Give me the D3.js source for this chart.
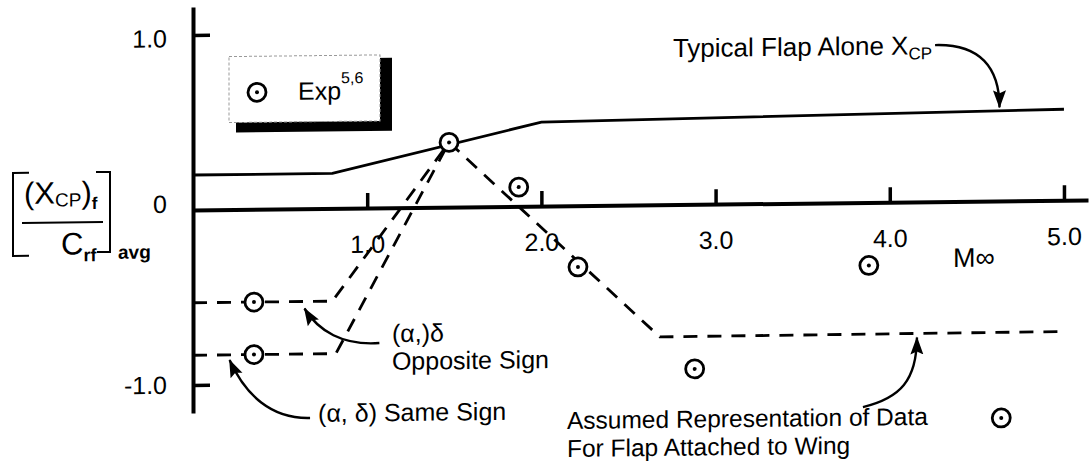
<!DOCTYPE html>
<html>
<head>
<meta charset="utf-8">
<script src="https://cdn.jsdelivr.net/npm/d3@7"></script>
<style>
  html, body { margin: 0; padding: 0; background: #fff; }
  svg { display: block; font-family: "Liberation Sans", Arial, Helvetica, sans-serif; }
</style>
</head>
<body>
<svg id="chart" width="1091" height="469"></svg>
<script>
// Experimental centre-of-pressure points (Mach number, Xcp / Crf)
const expMach = [0.35, 0.35, 1.47, 1.87, 2.21, 2.88, 3.88, 4.64];
const expXcp  = [-0.53, -0.83, 0.37, 0.11, -0.35, -0.94, -0.36, -1.24];

// Typical flap-alone centre of pressure
const flapAloneMach = [0, 0.8, 2.0, 5.0];
const flapAloneXcp  = [0.2, 0.2, 0.48, 0.52];

// Assumed representation for a flap attached to a wing
const oppositeMach = [0, 0.8, 1.47];
const oppositeXcp  = [-0.53, -0.53, 0.37];
const sameMach     = [0, 0.82, 1.47];
const sameXcp      = [-0.83, -0.83, 0.37];
const attachedMach = [1.47, 2.68, 4.98];
const attachedXcp  = [0.37, -0.755, -0.75];

// Axis ticks
const xTicks = [1, 2, 3, 4, 5];
const yTicks = [-1, 0, 1];

const FONT = '"Liberation Sans", Arial, Helvetica, sans-serif';
const svg = d3.select("#chart");

const x = d3.scaleLinear().domain([0, 5.138]).range([193, 1088]);
const y = d3.scaleLinear().domain([-1.16, 1.16]).range([413, 7]);

// the original sheet sits with a slight slope on its horizontal lines
const slope = -0.64;
const g = svg.append("g")
  .attr("transform", `translate(${x(0)},${y(0)}) skewY(${slope}) translate(${-x(0)},${-y(0)})`);

// arrowhead
svg.append("defs").append("marker")
  .attr("id", "arrow")
  .attr("markerUnits", "userSpaceOnUse")
  .attr("markerWidth", 20).attr("markerHeight", 16)
  .attr("viewBox", "0 -8 20 16")
  .attr("refX", 17).attr("refY", 0)
  .attr("orient", "auto")
  .append("path").attr("d", "M0,-6.5L18,0L0,6.5L3,0Z").attr("fill", "#000");

// ---- axes ----
const xAxis = g.append("g")
  .attr("transform", `translate(0,${y(0)})`)
  .call(d3.axisBottom(x).tickValues(xTicks).tickFormat(d => d.toFixed(1))
    .tickSizeInner(-15).tickSizeOuter(0).tickPadding(27));
const yAxis = g.append("g")
  .attr("transform", `translate(${x(0)},0)`)
  .call(d3.axisLeft(y).tickValues(yTicks).tickFormat(d => d === 0 ? "0" : d.toFixed(1))
    .tickSizeInner(-17).tickSizeOuter(0).tickPadding(26));
yAxis.selectAll(".tick").filter(d => d === 0).select("line").remove();
yAxis.selectAll(".tick text").attr("dy", d => d === 0 ? "0.08em" : d === 1 ? "0.46em" : "0.32em");

[xAxis, yAxis].forEach(a => {
  a.attr("font-family", FONT).attr("font-size", 25);
  a.select(".domain").attr("stroke", "#000").attr("stroke-width", 4);
  a.selectAll(".tick line").attr("stroke", "#000").attr("stroke-width", 3.5);
  a.selectAll(".tick text").attr("fill", "#000");
});

// ---- curves ----
const line = d3.line().x(d => x(d[0])).y(d => y(d[1]));
const pairs = (ms, vs) => ms.map((m, i) => [m, vs[i]]);

g.append("path").datum(pairs(flapAloneMach, flapAloneXcp))
  .attr("d", line).attr("fill", "none").attr("stroke", "#000").attr("stroke-width", 2.8);

[[oppositeMach, oppositeXcp], [sameMach, sameXcp], [attachedMach, attachedXcp]].forEach(([ms, vs]) => {
  g.append("path").datum(pairs(ms, vs))
    .attr("d", line).attr("fill", "none").attr("stroke", "#000")
    .attr("stroke-width", 2.8).attr("stroke-dasharray", "14,10");
});

// ---- experimental markers ----
function dotCircle(sel) {
  sel.append("circle").attr("r", 9).attr("fill", "#fff").attr("stroke", "#000").attr("stroke-width", 2.8);
  sel.append("circle").attr("r", 2).attr("fill", "#000");
}
g.selectAll(".exp").data(pairs(expMach, expXcp)).join("g")
  .attr("class", "exp")
  .attr("transform", d => `translate(${x(d[0])},${y(d[1])})`)
  .each(function () { dotCircle(d3.select(this)); });

// ---- annotation arrows (data units) ----
const arrows = [
  { from: [4.26, 0.895],  c1: [4.52, 0.90],   c2: [4.63, 0.76],  to: [4.63, 0.535] },
  { from: [1.07, -0.772], c1: [0.86, -0.785], c2: [0.72, -0.70], to: [0.64, -0.57] },
  { from: [0.672, -1.196],c1: [0.45, -1.20],  c2: [0.30, -1.06], to: [0.21, -0.86] },
  { from: [3.846, -1.169],c1: [4.06, -1.12],  c2: [4.155, -1.02],to: [4.156, -0.775] }
];
const P = p => `${x(p[0])},${y(p[1])}`;
g.selectAll(".arrow").data(arrows).join("path")
  .attr("class", "arrow")
  .attr("d", a => `M${P(a.from)}C${P(a.c1)} ${P(a.c2)} ${P(a.to)}`)
  .attr("fill", "none").attr("stroke", "#000").attr("stroke-width", 2.4)
  .attr("marker-end", "url(#arrow)");

// ---- annotation text (data units for anchor) ----
function note(at, parts, size = 25) {
  const t = g.append("text").attr("x", x(at[0])).attr("y", y(at[1]))
    .attr("font-family", FONT).attr("font-size", size).attr("fill", "#000");
  parts.forEach(p => {
    const s = t.append("tspan").text(p.text);
    if (p.size) s.attr("font-size", p.size);
    if (p.dy) s.attr("dy", p.dy);
  });
  return t;
}
note([2.755, 0.843], [{ text: "Typical Flap Alone X" }, { text: "CP", size: 17, dy: 5 }], 26);
note([1.142, -0.767], [{ text: "(α,)δ" }]);
note([1.142, -0.926], [{ text: "Opposite Sign" }]);
note([0.718, -1.219], [{ text: "(α, δ) Same Sign" }]);
note([2.147, -1.275], [{ text: "Assumed Representation of Data" }], 24.5);
note([2.147, -1.435], [{ text: "For Flap Attached to Wing" }], 24.5);
note([4.363, -0.374], [{ text: "M", size: 27 }, { text: "∞", size: 27 }]);

// ---- legend ----
const lg = g.append("g");
lg.append("rect").attr("x", 236).attr("y", 60).attr("width", 156).attr("height", 73).attr("fill", "#000");
lg.append("rect").attr("x", 229).attr("y", 57).attr("width", 151).attr("height", 66)
  .attr("fill", "#fff").attr("stroke", "#999").attr("stroke-width", 1).attr("stroke-dasharray", "3,2");
dotCircle(lg.append("g").attr("transform", "translate(257,93)"));
const lt = lg.append("text").attr("x", 298).attr("y", 101)
  .attr("font-family", FONT).attr("font-size", 25).attr("fill", "#000");
lt.append("tspan").text("Exp");
lt.append("tspan").text("5,6").attr("font-size", 16).attr("dy", -16);

// ---- y-axis title ----
const yt = g.append("g").attr("font-family", FONT).attr("fill", "#000");
const num = yt.append("text").attr("x", 24).attr("y", 202).attr("font-size", 31);
num.append("tspan").text("(X");
num.append("tspan").text("CP").attr("font-size", 19).attr("dy", 3);
num.append("tspan").text(")").attr("dy", -3);
num.append("tspan").text("f").attr("font-size", 17).attr("font-weight", "bold").attr("dy", 6);
yt.append("line").attr("x1", 22).attr("x2", 103).attr("y1", 221).attr("y2", 221)
  .attr("stroke", "#000").attr("stroke-width", 2);
const den = yt.append("text").attr("x", 61).attr("y", 253).attr("font-size", 31);
den.append("tspan").text("C");
den.append("tspan").text("rf").attr("font-size", 18).attr("font-weight", "bold").attr("dy", 7);
yt.append("text").attr("x", 118).attr("y", 258).attr("font-size", 19).attr("font-weight", "bold").text("avg");
yt.append("path").attr("d", "M29,171H13V254H29").attr("fill", "none").attr("stroke", "#000").attr("stroke-width", 2);
yt.append("path").attr("d", "M96,171H110V251H97").attr("fill", "none").attr("stroke", "#000").attr("stroke-width", 2);
</script>
</body>
</html>
